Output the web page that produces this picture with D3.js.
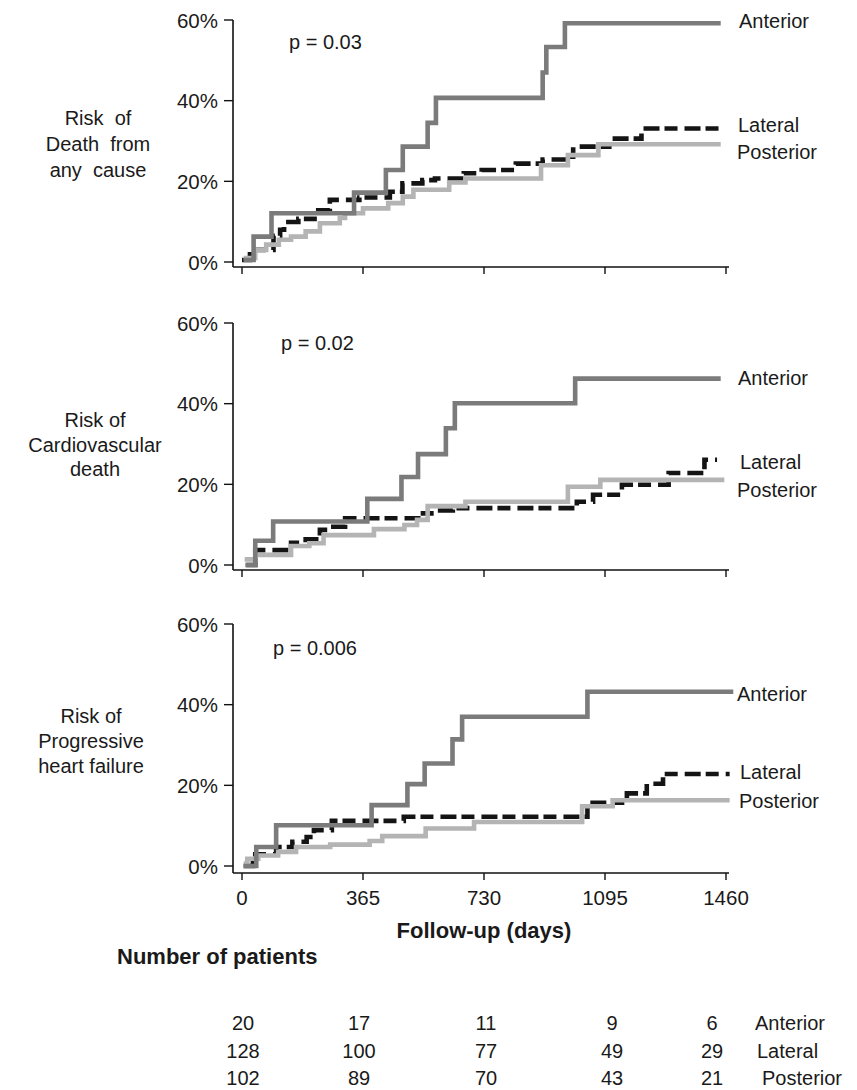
<!DOCTYPE html>
<html><head><meta charset="utf-8">
<script src="https://cdn.jsdelivr.net/npm/d3@7/dist/d3.min.js"></script>
<style>body{margin:0;background:#fff}svg{display:block}text{font-family:"Liberation Sans",Arial,sans-serif;fill:#1a1a1a}</style>
</head><body><svg id="chart" width="857" height="1090"></svg>
<script>
// ---------- data ----------
const seriesNames = ["Anterior", "Lateral", "Posterior"];
const xTickValues = [0, 365, 730, 1095, 1460];
const yTickValues = [0, 20, 40, 60];
const panelTitles = [["Risk  of", "Death  from", "any  cause"], ["Risk of", "Cardiovascular", "death"], ["Risk of", "Progressive", "heart failure"]];
const pLabels = ["p = 0.03", "p = 0.02", "p = 0.006"];

// [day, cumulative risk %] (step after)
const deathAnterior = [[5,0.5],[35,6.3],[89,12.1],[338,17.2],[434,22.8],[485,28.6],[560,34.5],[585,40.7],[907,47],[918,53.3],[974,59.2],[1444,59.2]];
const deathLateral = [[0,0.5],[24,3],[95,6.5],[115,8],[127,9.9],[170,10.7],[230,12.8],[265,15.4],[354,16],[446,17.4],[484,19.5],[544,20.3],[582,20.7],[669,22],[723,22.8],[826,24.4],[907,25.4],[978,26.1],[999,28.6],[1108,30.6],[1205,33.1],[1440,33.1]];
const deathPosterior = [[5,1],[40,3],[73,4.3],[111,5.5],[148,6.3],[192,7.6],[235,9.6],[295,10.9],[311,12.1],[365,13.3],[441,14.6],[485,16.2],[517,17.9],[625,19.7],[674,20.7],[902,24],[983,26.5],[1075,29.2],[1444,29.2]];

const cvAnterior = [[10,0],[40,6],[94,10.8],[378,16.4],[481,21.8],[531,27.5],[615,33.9],[642,40.1],[1005,46.2],[1444,46.2]];
const cvLateral = [[13,0],[40,3.7],[148,5.5],[192,6.4],[235,8.7],[268,9.5],[311,11.6],[539,12.8],[582,13.5],[636,14.1],[1010,15.7],[1059,17.4],[1146,19.9],[1287,22.8],[1395,26.1],[1433,26.1]];
const cvPosterior = [[8,1.4],[40,2.5],[148,4.7],[203,5.4],[246,7.4],[398,8.9],[490,9.9],[528,11.2],[560,14.6],[674,15.7],[983,19.4],[1081,21.1],[1455,21.1]];

const hfAnterior = [[5,0],[43,4.7],[103,10.1],[391,15.1],[499,20.3],[551,25.4],[635,31.4],[664,37],[1042,43.2],[1482,43.2]];
const hfLateral = [[5,0],[33,2.9],[103,4.7],[152,6],[195,7.2],[217,8.9],[271,11.2],[488,12.2],[1042,15.7],[1161,18],[1221,20.4],[1270,22.8],[1471,22.8]];
const hfPosterior = [[5,0.6],[16,1.8],[49,2.6],[109,3.5],[163,4.7],[266,5.3],[385,6.2],[423,7.4],[554,9.3],[700,10.9],[1026,14.8],[1118,16.3],[1471,16.3]];

const patientsAnterior = [20, 17, 11, 9, 6];
const patientsLateral = [128, 100, 77, 49, 29];
const patientsPosterior = [102, 89, 70, 43, 21];

// ---------- layout / style ----------
const panelData = [
  [deathAnterior, deathLateral, deathPosterior],
  [cvAnterior, cvLateral, cvPosterior],
  [hfAnterior, hfLateral, hfPosterior]
];
const panels = [
  {top: 20, zero: 262, axisY: 267, p: [289, 49], title: {x: 98, y: 125, dy: 26}, labY: [28, 132, 159], labX: [739, 738, 737]},
  {top: 323, zero: 565, axisY: 570, p: [281, 350], title: {x: 95, y: 427, dy: 24.5}, labY: [385, 469, 497], labX: [738, 740, 737]},
  {top: 624, zero: 866, axisY: 873, p: [273, 655], title: {x: 91, y: 723, dy: 25}, labY: [701, 779, 808], labX: [737, 740, 739]}
];
const colors = {Anterior: "#7b7b7b", Lateral: "#141414", Posterior: "#b4b4b4"};
const dash = {Anterior: null, Lateral: "16,5,13,7", Posterior: null};
const drawOrder = [1, 2, 0];
const axisX0 = 233;
const fs = 20;
const tickFs = 20.5;
const boldFs = 22;

const svg = d3.select("#chart");
const x = d3.scaleLinear().domain([0, 1460]).range([242, 726]);

panels.forEach((pn, i) => {
  const y = d3.scaleLinear().domain([0, 60]).range([pn.zero, pn.top]);
  const g = svg.append("g");

  // y axis
  g.append("line").attr("x1", axisX0).attr("x2", axisX0).attr("y1", y(60)).attr("y2", pn.axisY)
    .attr("stroke", "#111").attr("stroke-width", 1.6);
  yTickValues.forEach(v => {
    g.append("line").attr("x1", axisX0 - 9).attr("x2", axisX0).attr("y1", y(v)).attr("y2", y(v))
      .attr("stroke", "#111").attr("stroke-width", 1.4);
    g.append("text").attr("x", axisX0 - 15).attr("y", y(v) + 7.5).attr("text-anchor", "end")
      .attr("font-size", tickFs).text(v + "%");
  });
  // x axis
  g.append("line").attr("x1", axisX0).attr("x2", x(1460) + 3).attr("y1", pn.axisY).attr("y2", pn.axisY)
    .attr("stroke", "#111").attr("stroke-width", 1.6);
  xTickValues.forEach(v => {
    g.append("line").attr("x1", x(v)).attr("x2", x(v)).attr("y1", pn.axisY).attr("y2", pn.axisY + 7)
      .attr("stroke", "#111").attr("stroke-width", 1.4);
  });

  // curves
  const line = d3.line().x(d => x(d[0])).y(d => y(d[1])).curve(d3.curveStepAfter);
  drawOrder.forEach(k => {
    const name = seriesNames[k];
    g.append("path").datum(panelData[i][k]).attr("d", line)
      .attr("fill", "none").attr("stroke", colors[name]).attr("stroke-width", 4.6)
      .attr("stroke-dasharray", dash[name]);
  });

  // series labels
  seriesNames.forEach((name, k) => {
    g.append("text").attr("x", pn.labX[k]).attr("y", pn.labY[k]).attr("font-size", fs).text(name);
  });
  // p value
  g.append("text").attr("x", pn.p[0]).attr("y", pn.p[1]).attr("font-size", fs).text(pLabels[i]);
  // panel title
  panelTitles[i].forEach((t, j) => {
    g.append("text").attr("x", pn.title.x).attr("y", pn.title.y + j * pn.title.dy).attr("text-anchor", "middle")
      .attr("font-size", fs).attr("xml:space", "preserve").style("white-space", "pre").text(t);
  });
});

// bottom tick labels
xTickValues.forEach(v => {
  svg.append("text").attr("x", x(v)).attr("y", 905).attr("text-anchor", "middle").attr("font-size", tickFs).text(v);
});
svg.append("text").attr("x", 484).attr("y", 938).attr("text-anchor", "middle").attr("font-size", boldFs)
  .attr("font-weight", "bold").text("Follow-up (days)");
svg.append("text").attr("x", 117).attr("y", 964).attr("font-size", boldFs)
  .attr("font-weight", "bold").text("Number of patients");

// risk table
const tableRows = [patientsAnterior, patientsLateral, patientsPosterior];
const colCenter = [243, 359, 486, 612, 712];
const rowY = [1030, 1058, 1085];
const rowLabelX = [755, 757, 762];
tableRows.forEach((row, r) => {
  row.forEach((v, c) => {
    svg.append("text").attr("x", colCenter[c]).attr("y", rowY[r]).attr("text-anchor", "middle").attr("font-size", fs).text(v);
  });
  svg.append("text").attr("x", rowLabelX[r]).attr("y", rowY[r]).attr("font-size", fs).text(seriesNames[r]);
});
</script></body></html>
